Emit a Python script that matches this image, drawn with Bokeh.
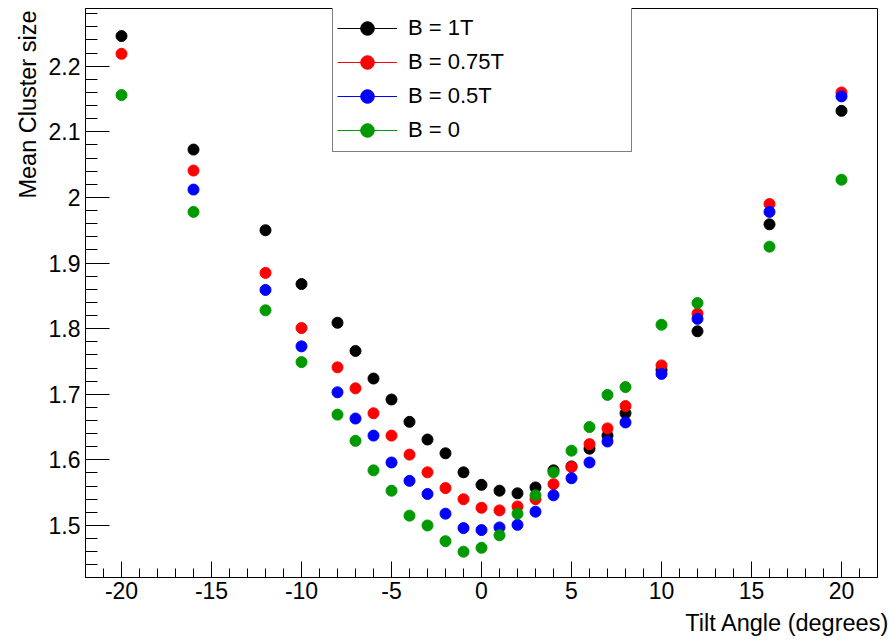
from bokeh.plotting import figure
from bokeh.models import (Range1d, FixedTicker, CustomJSTickFormatter, Title,
                          Legend, LegendItem, ColumnDataSource)
from bokeh.embed import file_html
from bokeh.resources import INLINE

# ---- data ----
angles = [-20, -16, -12, -10, -8, -7, -6, -5, -4, -3, -2, -1, 0, 1, 2, 3, 4, 5, 6, 7, 8, 10, 12, 16, 20]
b1T = [2.246, 2.073, 1.950, 1.868, 1.809, 1.766, 1.724, 1.692, 1.658, 1.631, 1.610, 1.581, 1.562,
       1.553, 1.549, 1.558, 1.584, 1.590, 1.617, 1.637, 1.671, 1.737, 1.796, 1.959, 2.132]
b075T = [2.219, 2.041, 1.885, 1.801, 1.741, 1.709, 1.671, 1.637, 1.608, 1.581, 1.557, 1.540, 1.527,
         1.523, 1.529, 1.540, 1.563, 1.589, 1.624, 1.648, 1.682, 1.744, 1.823, 1.990, 2.160]
angles_05T = [-16, -12, -10, -8, -7, -6, -5, -4, -3, -2, -1, 0, 1, 2, 3, 4, 5, 6, 7, 8, 10, 12, 16, 20]
b05T = [2.012, 1.859, 1.773, 1.703, 1.663, 1.637, 1.596, 1.568, 1.548, 1.518, 1.496, 1.493,
        1.497, 1.501, 1.521, 1.546, 1.572, 1.596, 1.628, 1.657, 1.731, 1.815, 1.978, 2.154]
b0 = [2.156, 1.978, 1.828, 1.749, 1.669, 1.629, 1.584, 1.553, 1.515, 1.500, 1.476, 1.460, 1.466,
      1.485, 1.518, 1.546, 1.581, 1.614, 1.650, 1.699, 1.711, 1.806, 1.839, 1.925, 2.027]

series = [
    ("B = 1T", angles, b1T, "#000000"),
    ("B = 0.75T", angles, b075T, "#ff0000"),
    ("B = 0.5T", angles_05T, b05T, "#0000ff"),
    ("B = 0", angles, b0, "#009900"),
]

x_major = [-20, -15, -10, -5, 0, 5, 10, 15, 20]
x_minor = list(range(-22, 23))
y_major = [1.5, 1.6, 1.7, 1.8, 1.9, 2.0, 2.1, 2.2]
y_minor = [round(1.42 + 0.02 * i, 2) for i in range(44)]
x_title = "Tilt Angle (degrees)"
y_title = "Mean Cluster size"

FONT = "Liberation Sans"
W, H = 889, 641
BL, BR, BT, BB = 85, 12, 8, 64
FH = H - BT - BB

p = figure(width=W, height=H, output_backend="svg", toolbar_location=None,
           x_range=Range1d(-22, 22), y_range=Range1d(1.4207, 2.288),
           min_border_left=BL, min_border_right=BR, min_border_top=BT, min_border_bottom=BB)
p.background_fill_color = "white"
p.border_fill_color = "white"
p.outline_line_color = "black"
p.outline_line_width = 1
p.grid.visible = False

xa = p.xaxis[0]
xa.ticker = FixedTicker(ticks=x_major, minor_ticks=x_minor)
xa.formatter = CustomJSTickFormatter(code="return tick.toString()")
xa.major_tick_in = 16
xa.major_tick_out = 0
xa.minor_tick_in = 9
xa.minor_tick_out = 0
xa.major_label_standoff = 4
xa.major_label_text_font = FONT
xa.major_label_text_font_size = "23px"
xa.major_label_text_color = "black"

ya = p.yaxis[0]
ya.ticker = FixedTicker(ticks=y_major, minor_ticks=y_minor)
ya.formatter = CustomJSTickFormatter(code="return String(Math.round(tick*10)/10)")
ya.major_tick_in = 24
ya.major_tick_out = 0
ya.minor_tick_in = 12
ya.minor_tick_out = 0
ya.major_label_standoff = 5
ya.major_label_text_font = FONT
ya.major_label_text_font_size = "23px"
ya.major_label_text_color = "black"

for ax in (xa, ya):
    ax.axis_line_color = "black"
    ax.major_tick_line_color = "black"
    ax.minor_tick_line_color = "black"

# ROOT-style axis titles, aligned to the far end of each axis
p.add_layout(Title(text=x_title, align="right", offset=-12, standoff=12,
                   text_font=FONT, text_font_size="23.5px", text_font_style="normal",
                   text_color="black"), "below")
p.add_layout(Title(text=y_title, align="right", offset=2, standoff=10,
                   text_font=FONT, text_font_size="23.5px", text_font_style="normal",
                   text_color="black"), "left")

items = []
for label, xs, ys, color in series:
    src = ColumnDataSource(dict(x=xs, y=ys))
    sc = p.scatter("x", "y", source=src, size=11, marker="circle",
                   fill_color=color, line_color=color)
    ln = p.line(x=[float("nan")], y=[float("nan")], line_color=color, line_width=1)
    items.append(LegendItem(label=label, renderers=[ln, sc]))

legend = Legend(items=items, location=(247, FH - 144), margin=0, padding=4, spacing=0,
                glyph_width=60, glyph_height=34, label_height=34, label_width=219,
                label_standoff=11, label_text_font=FONT, label_text_font_size="22px",
                label_text_color="black", border_line_color="black", border_line_width=1,
                background_fill_color="white", background_fill_alpha=1)
p.add_layout(legend, "center")

open("out.html", "w").write(file_html(p, INLINE))
